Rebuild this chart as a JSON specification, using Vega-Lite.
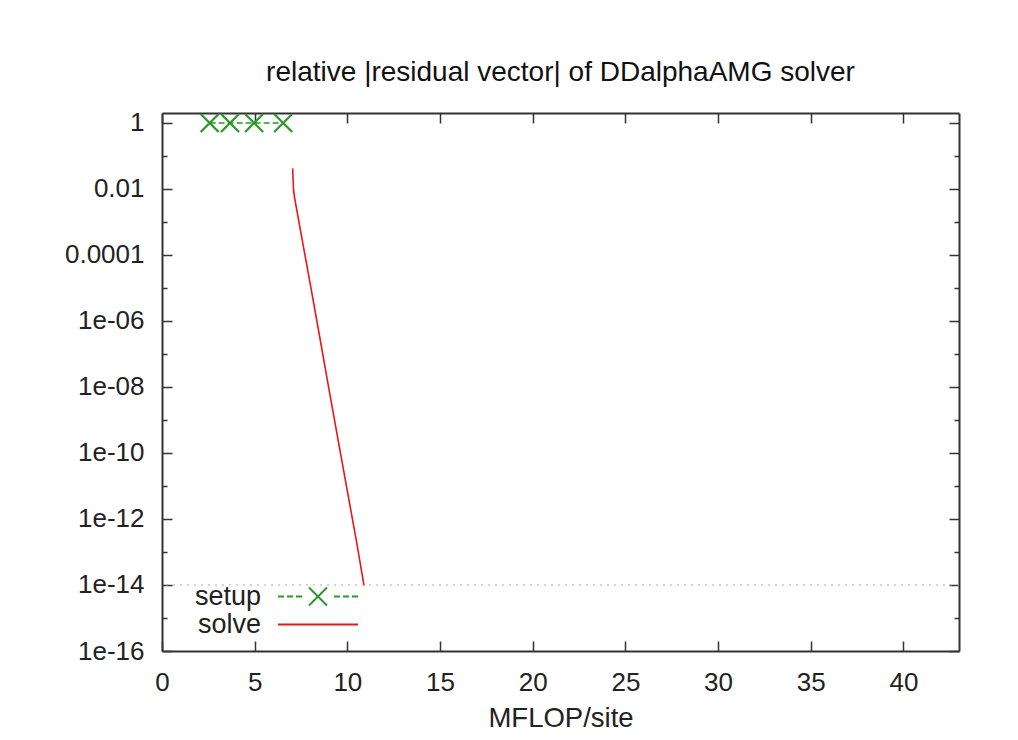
{
  "$schema": "https://vega.github.io/schema/vega-lite/v6.json",
  "width": 797,
  "height": 538,
  "autosize": {"type": "none"},
  "padding": {"left": 162, "top": 113, "right": 59, "bottom": 89},
  "background": "white",
  "title": {
    "text": "relative |residual vector| of DDalphaAMG solver",
    "font": "Liberation Sans",
    "fontSize": 28,
    "fontWeight": "normal",
    "color": "#111111",
    "baseline": "alphabetic",
    "offset": 1,
    "anchor": "middle"
  },
  "datasets": {
    "setup": [
      {"series": "setup", "mflop": 2.57, "residual": 1},
      {"series": "setup", "mflop": 3.67, "residual": 1},
      {"series": "setup", "mflop": 4.97, "residual": 1},
      {"series": "setup", "mflop": 6.54, "residual": 1}
    ],
    "solve": [
      {"series": "solve", "mflop": 7.05, "residual": 0.042},
      {"series": "solve", "mflop": 7.07, "residual": 0.02},
      {"series": "solve", "mflop": 7.1, "residual": 0.009},
      {"series": "solve", "mflop": 7.15, "residual": 0.0055},
      {"series": "solve", "mflop": 7.5, "residual": 0.00045},
      {"series": "solve", "mflop": 8.0, "residual": 1.3e-5},
      {"series": "solve", "mflop": 8.5, "residual": 3.5e-7},
      {"series": "solve", "mflop": 9.0, "residual": 9e-9},
      {"series": "solve", "mflop": 9.5, "residual": 2.5e-10},
      {"series": "solve", "mflop": 10.0, "residual": 7e-12},
      {"series": "solve", "mflop": 10.5, "residual": 2e-13},
      {"series": "solve", "mflop": 10.9, "residual": 9.5e-15}
    ],
    "tolerance": [
      {"residual": 1e-14}
    ]
  },
  "config": {
    "view": {"stroke": null},
    "axis": {
      "grid": false,
      "domainColor": "#333333",
      "domainWidth": 2,
      "tickColor": "#333333",
      "tickWidth": 1.5,
      "labelFont": "Liberation Sans",
      "labelFontSize": 26,
      "labelColor": "#222222",
      "titleFont": "Liberation Sans",
      "titleFontSize": 27.5,
      "titleFontWeight": "normal",
      "titleColor": "#222222",
      "labelFlush": false,
      "labelOverlap": false,
      "labelBound": false
    }
  },
  "resolve": {"axis": {"x": "independent", "y": "independent"}},
  "layer": [
    {
      "data": {"name": "setup"},
      "mark": {"type": "line", "strokeDash": [6, 3], "strokeWidth": 1.5},
      "encoding": {
        "x": {
          "field": "mflop", "type": "quantitative",
          "scale": {"domain": [0, 43], "nice": false, "zero": false},
          "axis": {"orient": "bottom", "values": [0, 5, 10, 15, 20, 25, 30, 35, 40], "tickSize": -10, "labelPadding": 28, "title": "MFLOP/site", "titlePadding": 9}
        },
        "y": {
          "field": "residual", "type": "quantitative",
          "scale": {"type": "log", "domain": [1e-16, 2], "nice": false},
          "axis": {
            "orient": "left",
            "values": [1, 0.01, 0.0001, 1e-6, 1e-8, 1e-10, 1e-12, 1e-14, 1e-16],
            "tickSize": -10,
            "labelPadding": 28,
            "title": null,
            "labelExpr": "datum.value >= 0.5 ? '1' : datum.value >= 0.005 ? '0.01' : datum.value >= 0.00005 ? '0.0001' : '1e-' + (round(-log(datum.value)/LN10) < 10 ? '0' : '') + round(-log(datum.value)/LN10)"
          }
        },
        "color": {
          "field": "series", "type": "nominal",
          "scale": {"domain": ["setup", "solve"], "range": ["#2a962a", "#e81818"]},
          "legend": {
            "orient": "none",
            "legendX": 142.5,
            "legendY": 470,
            "title": null,
            "padding": 0,
            "rowPadding": 0,
            "labelFont": "Liberation Sans",
            "labelFontSize": 27,
            "labelColor": "#222222",
            "labelAlign": "right",
            "labelOffset": -70.5,
            "symbolSize": 400,
            "symbolStrokeWidth": 2,
            "encode": {
              "symbols": {
                "update": {
                  "shape": {"signal": "datum.value === 'setup' ? 'M-4,0L-3.4,0M-3.1,0L-2.5,0M-2.2,0L-1.6,0M-0.9,-0.9L0.9,0.9M-0.9,0.9L0.9,-0.9M1.6,0L2.2,0M2.5,0L3.1,0M3.4,0L4,0' : 'M-4,0L4,0'"},
                  "strokeDash": {"value": [1, 0]},
                  "fill": {"value": "transparent"}
                }
              }
            }
          }
        }
      }
    },
    {
      "data": {"name": "setup"},
      "mark": {"type": "point", "shape": "M-1,-1L1,1M-1,1L1,-1", "size": 324, "filled": false, "strokeWidth": 2.2, "opacity": 1},
      "encoding": {
        "x": {"field": "mflop", "type": "quantitative", "axis": null},
        "y": {
          "field": "residual", "type": "quantitative",
          "axis": {"orient": "right", "values": [0.1, 0.001, 1e-5, 1e-7, 1e-9, 1e-11, 1e-13, 1e-15], "tickSize": -5, "labels": false, "domain": false, "title": null}
        },
        "color": {"field": "series", "type": "nominal"}
      }
    },
    {
      "data": {"name": "solve"},
      "mark": {"type": "line", "strokeWidth": 1.6},
      "encoding": {
        "x": {
          "field": "mflop", "type": "quantitative",
          "axis": {"orient": "top", "values": [0, 5, 10, 15, 20, 25, 30, 35, 40], "tickSize": -10, "labels": false, "title": null}
        },
        "y": {
          "field": "residual", "type": "quantitative",
          "axis": {"orient": "right", "values": [1, 0.01, 0.0001, 1e-6, 1e-8, 1e-10, 1e-12, 1e-14, 1e-16], "tickSize": -10, "labels": false, "title": null}
        },
        "color": {"field": "series", "type": "nominal"}
      }
    },
    {
      "data": {"name": "tolerance"},
      "mark": {"type": "rule", "color": "#aaaaaa", "strokeDash": [2, 5], "strokeWidth": 1},
      "encoding": {
        "y": {
          "field": "residual", "type": "quantitative",
          "axis": {"orient": "left", "values": [0.1, 0.001, 1e-5, 1e-7, 1e-9, 1e-11, 1e-13, 1e-15], "tickSize": -5, "labels": false, "domain": false, "title": null}
        }
      }
    }
  ]
}
